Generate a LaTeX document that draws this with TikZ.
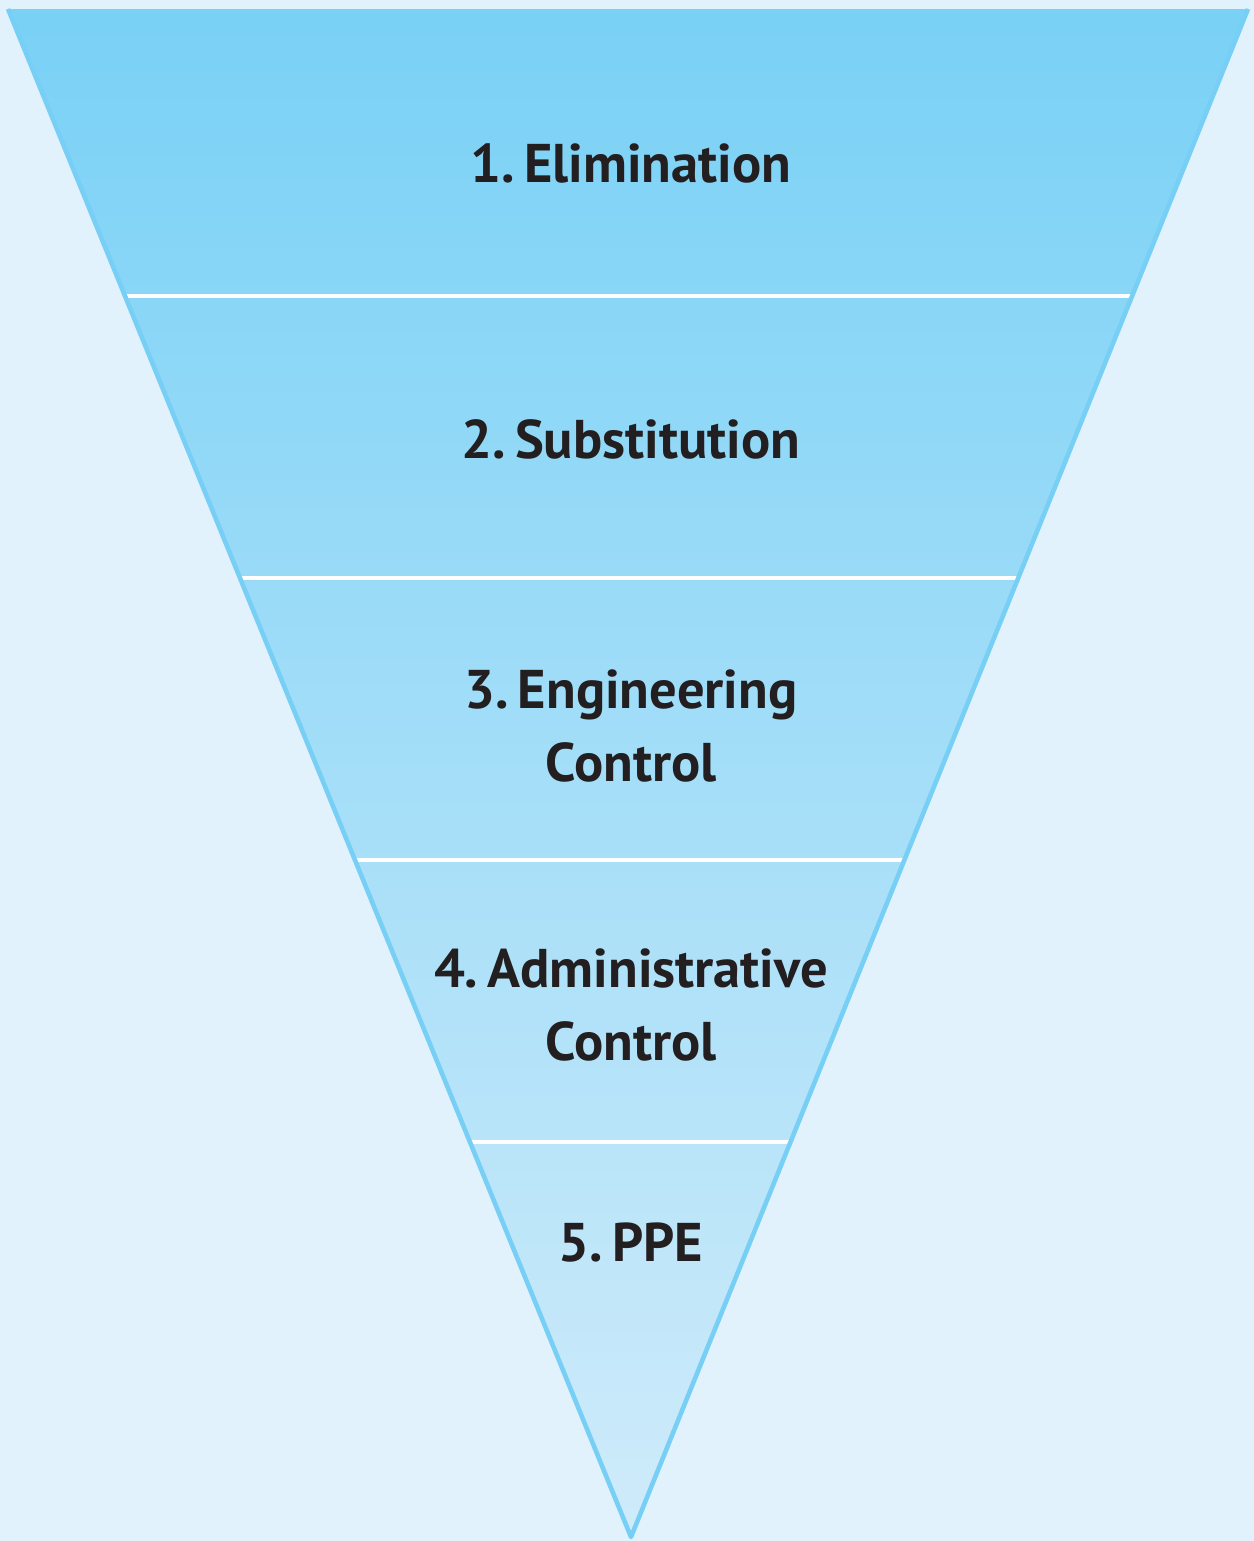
\documentclass[tikz,border=0pt]{standalone}
\usepackage{fontspec}
\setmainfont{PT Sans}
\usetikzlibrary{calc}

\definecolor{bgblue}{HTML}{E1F2FC}
\definecolor{topblue}{HTML}{79D1F6}
\definecolor{lowblue}{HTML}{CFEBFA}
\definecolor{edgeblue}{HTML}{78CFF5}
\definecolor{labelgray}{HTML}{231F20}

\tikzset{
  level/.style = {align=center, text=labelgray, font=\fontsize{15.5}{21}\selectfont\bfseries},
}

\begin{document}
\begin{tikzpicture}[x=0.01cm, y=-0.01cm]
\useasboundingbox (0,0) rectangle (1254,1541);
\fill [bgblue] (0,0) rectangle (1254,1541);
\coordinate (tl) at (8,9);
\coordinate (tr) at (1248,9);
\coordinate (apex) at (631,1537);
\shade [top color=topblue, bottom color=lowblue] (tl) -- (tr) -- (apex) -- cycle;
\foreach \k in {1,...,4}
  \draw [white, line width=1.4pt] ($(tl)!{(5+282*\k)/1528}!(apex)$) -- ($(tr)!{(5+282*\k)/1528}!(apex)$);
\draw [edgeblue, line width=1.3pt, line join=round] (tl) -- (apex) -- (tr);
\node [level] (elim) at (631,163) {1.\,Elimination};
\node [level] (subst) at (631,439) {2.\,Substitution};
\node [level] (eng) at (631,726) {3.\,Engineering\\Control};
\node [level] (admin) at (631,1005) {4.\,Administrative\\Control};
\node [level] (ppe) at (631,1243) {5.\,PPE};
\end{tikzpicture}
\end{document}
